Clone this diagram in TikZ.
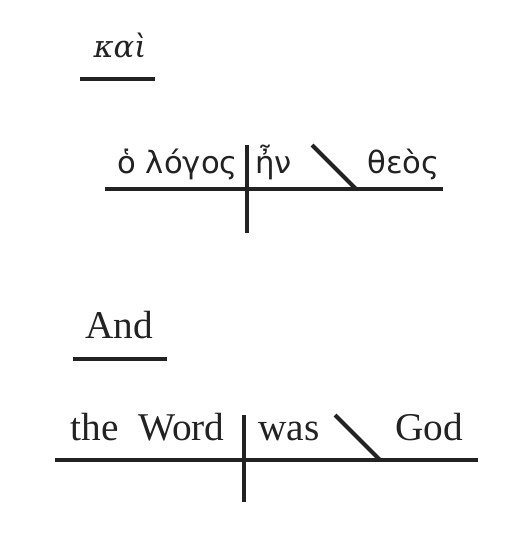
\documentclass[tikz,border=0pt]{standalone}
\usepackage{fontspec}
\setmainfont{Liberation Serif}
\newfontfamily\greekfont{DejaVu Sans}
\newfontfamily\greekitfont{DejaVu Serif}[ItalicFont={DejaVu Serif Italic}]

\tikzset{every picture/.style={line width=0.75pt}}
\tikzset{
  diagline/.style={line width=3pt, color={rgb, 255:red, 34; green, 34; blue, 34 }},
  greekword/.style={anchor=base west, inner sep=0pt, font=\greekfont\fontsize{23}{27}\selectfont, text={rgb, 255:red, 34; green, 34; blue, 34 }},
  englishword/.style={anchor=base west, inner sep=0pt, font=\fontsize{29.5}{35}\selectfont, text={rgb, 255:red, 34; green, 34; blue, 34 }}
}

\begin{document}
\begin{tikzpicture}[x=0.75pt,y=0.75pt,yscale=-1,xscale=1]
        \useasboundingbox (0,0) rectangle (530,546);

        % Text Node
        \node [greekword, font=\greekitfont\itshape\fontsize{23}{27}\selectfont] (kai) at (93,57) {καὶ};
        % Text Node
        \node [greekword] (logos) at (117,173) {ὁ λόγος};
        % Text Node
        \node [greekword] (en) at (255,173) {ἦν};
        % Text Node
        \node [greekword] (theos) at (367,173) {θεὸς};

        %Coordinates of the Greek lines
        \coordinate (kaiL) at (80,79);
        \coordinate (kaiR) at (155,79);
        \coordinate (grL) at (105,189);
        \coordinate (grR) at (443,189);
        \coordinate (grVt) at (247,145);
        \coordinate (grVb) at (247,233);
        \coordinate (grSt) at (312,145);
        \coordinate (grSb) at (356,189);

        %Straight Lines
        \draw [diagline] (kaiL) -- (kaiR) ;
        %Straight Lines
        \draw [diagline] (grL) -- (grR) ;
        %Straight Lines
        \draw [diagline] (grVt) -- (grVb) ;
        %Straight Lines
        \draw [diagline] (grSt) -- (grSb) ;

        % Text Node
        \node [englishword] (and) at (85,338) {And};
        % Text Node
        \node [englishword] (word) at (70,440) {the\hspace{0.5em}Word};
        % Text Node
        \node [englishword] (was) at (258,440) {was};
        % Text Node
        \node [englishword] (god) at (395,440) {God};

        %Coordinates of the English lines
        \coordinate (andL) at (73,359);
        \coordinate (andR) at (167,359);
        \coordinate (enL) at (55,460);
        \coordinate (enR) at (478,460);
        \coordinate (enVt) at (244,415);
        \coordinate (enVb) at (244,502);
        \coordinate (enSt) at (335,415);
        \coordinate (enSb) at (380,460);

        %Straight Lines
        \draw [diagline] (andL) -- (andR) ;
        %Straight Lines
        \draw [diagline] (enL) -- (enR) ;
        %Straight Lines
        \draw [diagline] (enVt) -- (enVb) ;
        %Straight Lines
        \draw [diagline] (enSt) -- (enSb) ;

\end{tikzpicture}
\end{document}
